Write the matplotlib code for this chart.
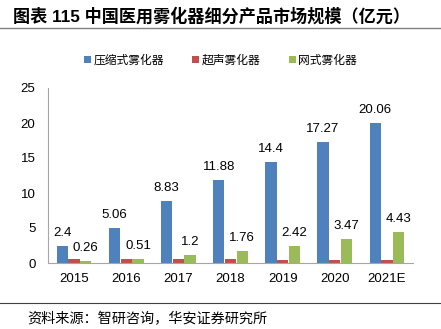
import numpy as np
import matplotlib
matplotlib.use("Agg")
import matplotlib.pyplot as plt

plt.rcParams['font.family'] = ['Liberation Sans', 'Noto Sans CJK SC', 'DejaVu Sans']

# =========================
# dados
# =========================
years = ["2015", "2016", "2017", "2018", "2019", "2020", "2021E"]
compressed = [2.4, 5.06, 8.83, 11.88, 14.4, 17.27, 20.06]
ultrasonic = [0.6, 0.55, 0.6, 0.55, 0.5, 0.45, 0.45]
mesh = [0.26, 0.51, 1.2, 1.76, 2.42, 3.47, 4.43]
series_names = ["压缩式雾化器", "超声雾化器", "网式雾化器"]

colors = ["#4F81BD", "#C0504D", "#9BBB59"]

fig = plt.figure(figsize=(4.41, 3.29), dpi=100)
ax = fig.add_axes([48 / 441, 1 - 263 / 329, 365 / 441, 175 / 329])

x = np.arange(len(years))
w = 0.215
for i, (vals, name) in enumerate(zip([compressed, ultrasonic, mesh], series_names)):
    bars = ax.bar(x + (i - 1) * (w + 0.01), vals, width=w, color=colors[i], label=name)
    if i != 1:
        ax.bar_label(bars, labels=[f"{v:g}" for v in vals], padding=5, fontsize=9.5)

ax.set_xlim(-0.5, len(years) - 0.5)
ax.set_ylim(0, 25)
ax.set_yticks([0, 5, 10, 15, 20, 25])
ax.set_xticks(x)
ax.set_xticklabels(years)
ax.tick_params(length=0, labelsize=9.5, colors="#000000")
ax.tick_params(axis="y", pad=9)
ax.tick_params(axis="x", pad=7)
for s in ["top", "right"]:
    ax.spines[s].set_visible(False)
for s in ["left", "bottom"]:
    ax.spines[s].set_color("#A6A6A6")

leg = fig.legend(loc="center", bbox_to_anchor=(0.5, 1 - 60 / 329), ncol=3, frameon=False,
                 handlelength=0.6, handleheight=0.6, handletextpad=0.2,
                 columnspacing=2.4, prop={'family': ['Noto Sans CJK SC'], 'size': 8.5})

fig.text(13 / 441, 1 - 16 / 329, "图表 115 中国医用雾化器细分产品市场规模（亿元）",
         fontsize=12.3, fontweight="bold", va="center", ha="left",
         family=['Liberation Sans', 'Noto Sans CJK SC'])
fig.add_artist(plt.Line2D([0, 1], [1 - 28 / 329] * 2, color="#808080", lw=1))
fig.add_artist(plt.Line2D([0, 1], [1 - 303 / 329] * 2, color="#404040", lw=0.8))
fig.text(27 / 441, 1 - 319 / 329, "资料来源：智研咨询，华安证券研究所",
         fontsize=10.2, va="center", ha="left", family=['Noto Sans CJK SC'])

fig.savefig("out.png", dpi=100)
